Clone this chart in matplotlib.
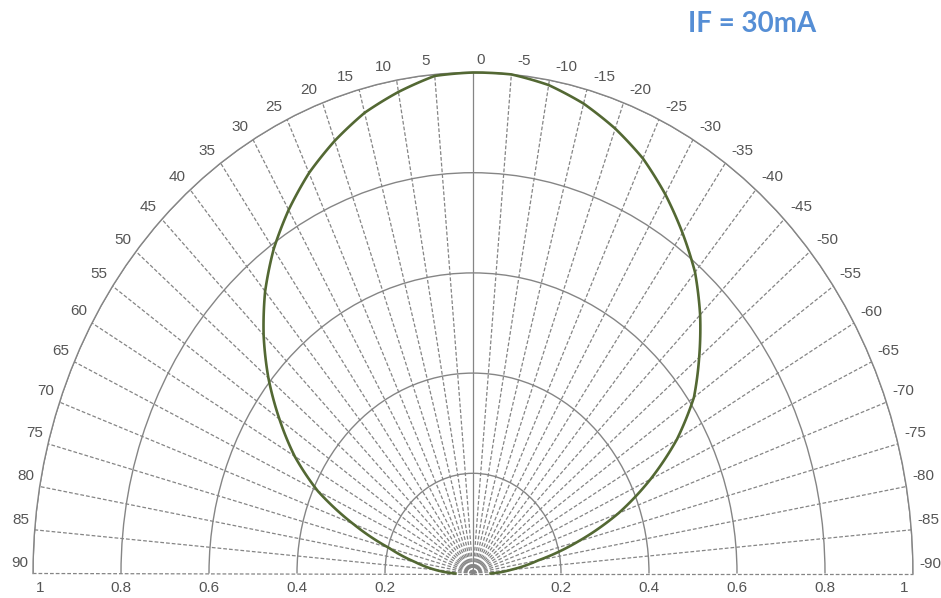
import numpy as np
import matplotlib
matplotlib.use("Agg")
import matplotlib.pyplot as plt

# ---- data ----
angles_deg = [90, 85, 80, 75, 70, 65, 60, 55, 50, 45, 40, 35, 30, 25, 20, 15, 10, 5, 0,
              -5, -10, -15, -20, -25, -30, -35, -40, -45, -50, -55, -60, -65, -70, -75, -80, -85, -90]
intensity = [0.04, 0.087, 0.135, 0.198, 0.29, 0.389, 0.468, 0.537, 0.607, 0.673, 0.735, 0.79,
             0.838, 0.882, 0.919, 0.952, 0.976, 0.997, 1.0,
             1.0, 0.99, 0.971, 0.945, 0.914, 0.874, 0.83, 0.785, 0.73, 0.671, 0.613, 0.535,
             0.445, 0.352, 0.248, 0.15, 0.088, 0.04]
theta_ticks = list(range(-90, 91, 5))
theta_labels = [str(a) for a in theta_ticks]
r_ticks = [0.2, 0.4, 0.6, 0.8, 1.0]
r_labels = ["0.2", "0.4", "0.6", "0.8", "1"]
title = "IF = 30mA"

W, H = 941, 598
fig = plt.figure(figsize=(W / 100, H / 100), dpi=100)
fig.patch.set_facecolor("white")

# geometry of the half-disc in pixels
cx, cy = 473, 573.5   # centre (cy measured from top)
Rx, Ry = 440, 501     # horizontal / vertical radius of r = 1
width = 2 * Rx / W
height = 2 * Ry / H
left = (cx - Rx) / W
bottom = (H - cy) / H - 0.25 * height
ax = fig.add_axes([left, bottom, width, height], projection="polar")
ax.set_theta_zero_location("N")
ax.set_theta_direction(1)
ax.set_thetamin(-90)
ax.set_thetamax(90)
ax.set_rlim(0, 1)
ax.set_aspect("auto")

grid_col = "#858585"
lab_col = "#555555"
font = "Liberation Sans"
PX = 72 / 100  # points per pixel

# angular grid (dashed), 0 deg solid
ax.set_thetagrids(theta_ticks, [""] * len(theta_ticks))
ax.xaxis.grid(True, color=grid_col, lw=0.9, linestyle=(0, (3.0, 1.6)))
ax.tick_params(axis="x", length=0)
for tick in ax.xaxis.get_major_ticks():
    if abs(tick.get_loc()) < 1e-9:
        tick.gridline.set_linestyle("-")
    if abs(abs(tick.get_loc()) - np.pi / 2) < 1e-9:
        tick.gridline.set_clip_on(False)

# angular labels
for a, lab in zip(theta_ticks, theta_labels):
    if a > 0:
        ha, dx = "right", -5
    elif a == 0:
        ha, dx = "left", 3
    else:
        ha, dx = "left", 6
    dy = 10 + 3 * np.cos(np.deg2rad(a))
    ax.annotate(lab, xy=(np.deg2rad(a), 1.0), xytext=(dx * PX, dy * PX),
                textcoords="offset points", ha=ha, va="center", fontsize=11,
                color=lab_col, fontfamily=font, annotation_clip=False)

# radial grid
ax.set_rgrids(r_ticks)
ax.yaxis.grid(True, color=grid_col, lw=1.0, linestyle="-")
ax.tick_params(axis="y", labelleft=False, labelright=False, length=0)

ax.spines["polar"].set_color(grid_col)
ax.spines["polar"].set_linewidth(1.0)
for s in ("start", "end", "inner"):
    ax.spines[s].set_color("none")
    ax.spines[s].set_linewidth(0)

# radial labels along the baseline
for r, lab in zip(r_ticks, r_labels):
    for side in (90, -90):
        ha, dx = "center", 0
        if r == 1.0:
            ha, dx = ("left", 3) if side == 90 else ("right", -5)
        ax.annotate(lab, xy=(np.deg2rad(side), r), xytext=(dx * PX, -8 * PX),
                    textcoords="offset points", ha=ha, va="top", fontsize=11,
                    color=lab_col, fontfamily=font, annotation_clip=False)

# radiation pattern
line, = ax.plot(np.deg2rad(angles_deg), intensity, color="#536833", lw=1.9,
                clip_on=False, zorder=5)
line.get_path()._interpolation_steps = 12

fig.text(752 / W, 1 - 24 / H, title, ha="center", va="center", fontsize=20,
         fontweight="bold", color="#558ed5", fontfamily="Lato")

fig.savefig("out.png", dpi=100)
